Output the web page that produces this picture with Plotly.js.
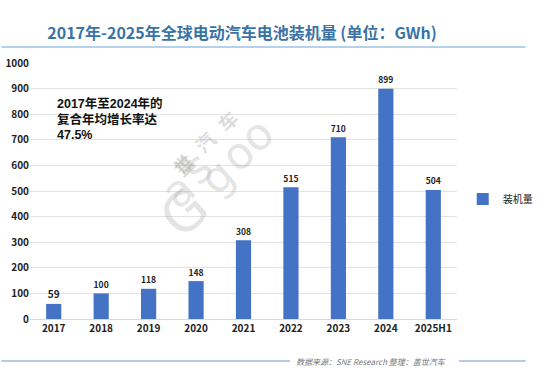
<!DOCTYPE html>
<html><head><meta charset="utf-8">
<script src="https://cdn.plot.ly/plotly-3.0.1.min.js"></script>
<style>body{margin:0;background:#fff}#c{width:550px;height:378px}</style>
</head><body><div id="c"></div>
<script>
const categories = ["2017","2018","2019","2020","2021","2022","2023","2024","2025H1"];
const values = [59,100,118,148,308,515,710,899,504];
const seriesName = "装机量";
const titleText = "2017年-2025年全球电动汽车电池装机量 (单位：GWh)";
const noteLines = ["2017年至2024年的", "复合年均增长率达", "47.5%"];
const sourceText = "数据来源：SNE Research 整理：盖世汽车";
const markChars = ["盖","世","汽","车"];
const logoChars = ["a","s","g","o","o"];

const F = "'Noto Sans CJK SC', 'Noto Sans', sans-serif";
const FN = "'Liberation Sans', 'Noto Sans CJK SC', sans-serif";
const W = 448, H = 256, L = 30, T = 63;
const px = x => (x - L) / W, py = y => 1 - (y - T) / H;

const trace = {
  type: "bar", x: categories, y: values, name: seriesName,
  marker: {color: "#4472c4"}, width: 0.32,
  text: values.map(String), textposition: "outside", cliponaxis: false,
  textfont: {family: F, size: 10, color: "#222", weight: "bold"}
};
const notes = noteLines.map((t, i) => ({
  text: "<b>" + t + "</b>", xref: "paper", yref: "paper", x: px(57), y: py(103 + 16 * i),
  xanchor: "left", yanchor: "middle", align: "left", showarrow: false, borderpad: 0,
  font: {family: FN, size: 12.5, color: "#111"}
}));
// watermark glyphs (decorative), placed along a diagonal
const markPos = [[172,165],[190,146],[213,124],[237,103]];
const wm1 = markChars.map((c, i) => ({
  text: "<b>" + c + "</b>", xref: "paper", yref: "paper", x: px(markPos[i][0]), y: py(markPos[i][1]),
  textangle: -45, showarrow: false, borderpad: 0, font: {family: F, size: 19, color: "rgba(165,165,165,0.4)"}
}));
const logoPos = [[185,190],[205,167],[226,147],[248,124],[268,105]];
const wm2 = logoChars.map((c, i) => ({
  text: c, xref: "paper", yref: "paper", x: px(logoPos[i][0]), y: py(logoPos[i][1]),
  textangle: -42, showarrow: false, borderpad: 0, font: {family: "'DejaVu Sans', sans-serif", size: 44, color: "rgba(165,165,165,0.3)"}
}));
const wmG = {text: "G", xref: "paper", yref: "paper", x: px(152), y: py(212), textangle: -42, showarrow: false, borderpad: 0,
  font: {family: "'DejaVu Sans', sans-serif", size: 54, color: "rgba(165,165,165,0.3)"}};

const layout = {
  width: 550, height: 378, paper_bgcolor: "#fff", plot_bgcolor: "#fff",
  margin: {l: L, r: 72, t: T, b: 59},
  showlegend: true,
  legend: {x: px(484), y: py(199), xanchor: "left", yanchor: "middle", font: {family: F, size: 10, color: "#222"}},
  title: {text: "<b>" + titleText + "</b>", font: {family: F, size: 16, color: "#3a73a8"}, x: 0.44, xanchor: "center", y: 1 - 33 / 378, yanchor: "middle"},
  xaxis: {type: "category", tickfont: {family: F, size: 10, color: "#222", weight: "bold"}, showline: true, linecolor: "#d9d9d9", ticks: "", showgrid: false},
  yaxis: {range: [0, 1000], dtick: 100, tickfont: {family: F, size: 10, color: "#222", weight: "bold"}, gridcolor: "#e3e3e3", zeroline: false, ticks: "", showline: false},
  annotations: wm1.concat(wm2, [wmG], notes, [
    {text: "<i>" + sourceText + "</i>", xref: "paper", yref: "paper", x: px(388), y: py(361), xanchor: "center", yanchor: "middle", showarrow: false, font: {family: F, size: 8, color: "#777"}}
  ]),
  shapes: [
    {type: "line", xref: "paper", yref: "paper", x0: px(0), x1: px(550), y0: py(47), y1: py(47), line: {color: "#9dc3e6", width: 1.5}},
    {type: "line", xref: "paper", yref: "paper", x0: px(0), x1: px(303), y0: py(361), y1: py(361), line: {color: "#9dbbd8", width: 1.5}},
    {type: "line", xref: "paper", yref: "paper", x0: px(480), x1: px(550), y0: py(361), y1: py(361), line: {color: "#9dbbd8", width: 1.5}}
  ]
};
Plotly.newPlot("c", [trace], layout, {displayModeBar: false, staticPlot: true});
</script></body></html>
